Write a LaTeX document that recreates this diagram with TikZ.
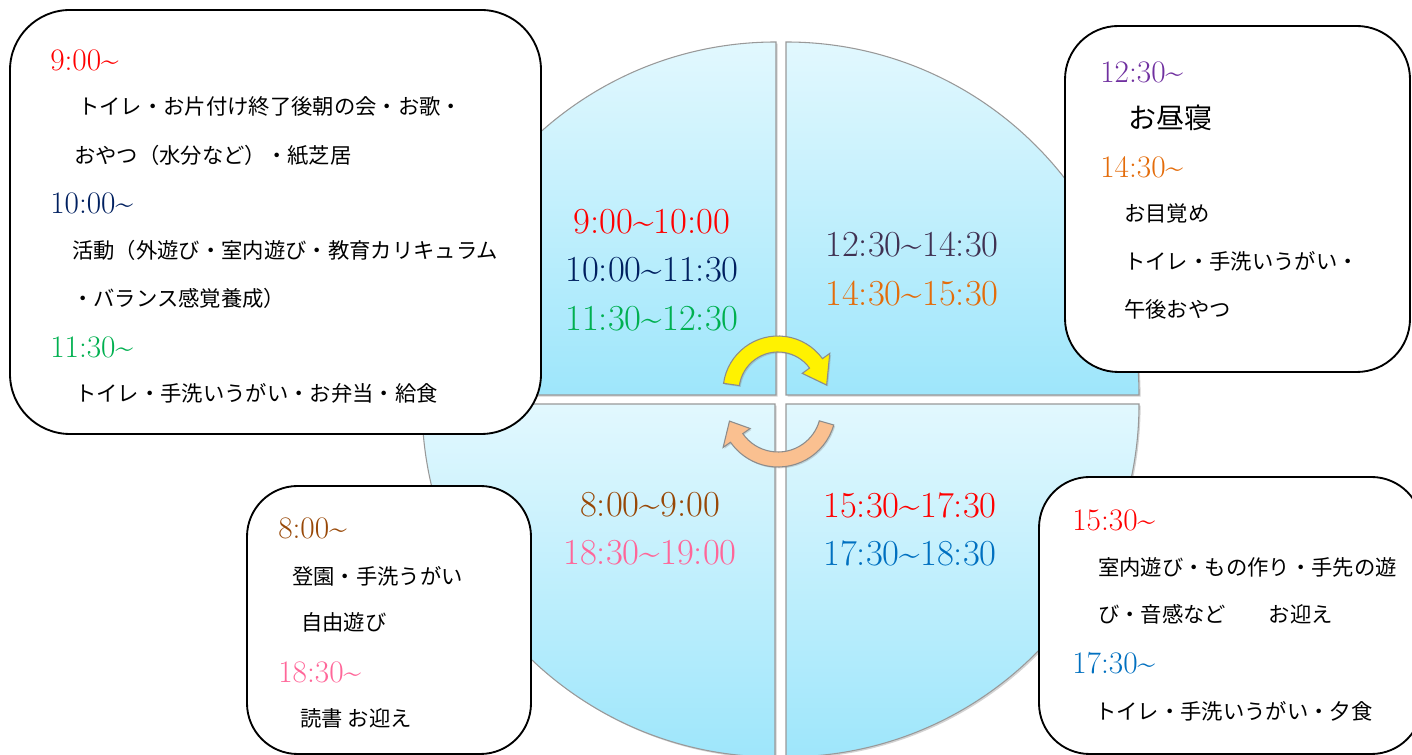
\documentclass[tikz,border=0pt]{standalone}
\usepackage{fontspec}
\newfontfamily\jpfont{Noto Sans CJK JP}
\usetikzlibrary{calc,shadows}
\definecolor{timered}{HTML}{FF0000}
\definecolor{timenavy}{HTML}{002060}
\definecolor{timegreen}{HTML}{00B050}
\definecolor{timepurple}{HTML}{7030A0}
\definecolor{timeplum}{HTML}{403152}
\definecolor{timeorange}{HTML}{E46C0A}
\definecolor{timeblue}{HTML}{0070C0}
\definecolor{timebrown}{HTML}{984807}
\definecolor{timepink}{HTML}{FF6699}
\definecolor{pielight}{HTML}{E2F8FE}
\definecolor{piedark}{HTML}{9EE6FB}
\definecolor{arrowpeach}{HTML}{FAC090}
\newcommand{\upto}{\textasciitilde}
\begin{document}
\begin{tikzpicture}[x=0.75pt,y=0.75pt,
  quarter/.style={draw=gray!80,line width=0.8pt,top color=pielight,bottom color=piedark,
    drop shadow={shadow xshift=1.2pt,shadow yshift=-1.2pt,opacity=0.35}},
  turn/.style={draw=gray!90,line width=0.8pt,
    drop shadow={shadow xshift=1pt,shadow yshift=-1pt,opacity=0.3}},
  callout/.style={draw=black,line width=1.4pt,fill=white,rounded corners=40pt},
  jp/.style={anchor=west,inner sep=0pt,font=\jpfont\fontsize{16}{19}\selectfont},
  boxtime/.style={anchor=west,inner sep=0pt,font=\fontsize{23.5}{27}\selectfont},
  pietime/.style={inner sep=0pt,font=\fontsize{27.5}{32}\selectfont}]
    \useasboundingbox (0,0) rectangle (1412,755);
    % the four quarters of the day
    \path[quarter] (776,360) -- (423,360) arc[start angle=180,end angle=90,radius=353] -- cycle;
    \path[quarter] (786,360) -- (786,713) arc[start angle=90,end angle=0,radius=353] -- cycle;
    \path[quarter] (775,351) -- (775,-2) arc[start angle=270,end angle=180,radius=353] -- cycle;
    \path[quarter] (786,351) -- (1139,351) arc[start angle=0,end angle=-90,radius=353] -- cycle;
    % turning arrows
    \coordinate (sun) at (778,364);
    \coordinate (moon) at (778,346);
    \draw[turn,fill=yellow] ($(sun)+(172:55)$) arc[start angle=172,end angle=36,radius=55]
      -- ($(sun)+(36:64)$) -- ($(sun)+(7:49)$) -- ($(sun)+(36:30)$)
      -- ($(sun)+(36:39)$) arc[start angle=36,end angle=172,radius=39] -- cycle;
    \draw[turn,fill=arrowpeach] ($(moon)+(-16:58)$) arc[start angle=-16,end angle=-145,radius=58]
      -- ($(moon)+(-145:67)$) -- ($(moon)+(-166:50)$) -- ($(moon)+(-145:34)$)
      -- ($(moon)+(-145:43)$) arc[start angle=-145,end angle=-16,radius=43] -- cycle;
    % times inside the circle
    \node[pietime,timered] (q1a) at (652,533) {9:00\upto10:00};
    \node[pietime,timenavy] (q1b) at (652,485) {10:00\upto11:30};
    \node[pietime,timegreen] (q1c) at (652,436) {11:30\upto12:30};
    \node[pietime,timeplum] (q2a) at (912,510) {12:30\upto14:30};
    \node[pietime,timeorange] (q2b) at (912,461) {14:30\upto15:30};
    \node[pietime,timebrown] (q3a) at (650,250) {8:00\upto9:00};
    \node[pietime,timepink] (q3b) at (650,202) {18:30\upto19:00};
    \node[pietime,timered] (q4a) at (910,250) {15:30\upto17:30};
    \node[pietime,timeblue] (q4b) at (910,202) {17:30\upto18:30};
    % morning box
    \draw[callout,rounded corners=45pt] (10,745) rectangle (541,321);
    \node[boxtime,timered] (am9) at (50,695) {9:00\upto};
    \node[jp] (am9a) at (78,649) {トイレ・お片付け終了後朝の会・お歌・};
    \node[jp] (am9b) at (74,600) {おやつ（水分など）・紙芝居};
    \node[boxtime,timenavy] (am10) at (50,552) {10:00\upto};
    \node[jp] (am10a) at (72,505) {活動（外遊び・室内遊び・教育カリキュラム};
    \node[jp] (am10b) at (72,457) {・バランス感覚養成）};
    \node[boxtime,timegreen] (am11) at (50,408) {11:30\upto};
    \node[jp] (am11a) at (75,362) {トイレ・手洗いうがい・お弁当・給食};
    % afternoon box
    \draw[callout] (1065,729) rectangle (1410,383);
    \node[boxtime,timepurple] (pm12) at (1100,683) {12:30\upto};
    \node[jp,font=\jpfont\fontsize{21}{24}\selectfont] (pm12a) at (1128,637) {お昼寝};
    \node[boxtime,timeorange] (pm14) at (1100,588) {14:30\upto};
    \node[jp] (pm14a) at (1124,542) {お目覚め};
    \node[jp] (pm14b) at (1124,494) {トイレ・手洗いうがい・};
    \node[jp] (pm14c) at (1124,446) {午後おやつ};
    % early and late box
    \draw[callout,rounded corners=38pt] (247,269) rectangle (531,1);
    \node[boxtime,timebrown] (am8) at (278,227) {8:00\upto};
    \node[jp] (am8a) at (292,179) {登園・手洗うがい};
    \node[jp] (am8b) at (301,133) {自由遊び};
    \node[boxtime,timepink] (pm18) at (278,83) {18:30\upto};
    \node[jp] (pm18a) at (300,37) {読書 お迎え};
    % evening box
    \draw[callout,rounded corners=38pt] (1039,278) rectangle (1422,1);
    \node[boxtime,timered] (pm15) at (1072,235) {15:30\upto};
    \node[jp] (pm15a) at (1098,188) {室内遊び・もの作り・手先の遊};
    \node[jp] (pm15b) at (1098,141) {び・音感など　　お迎え};
    \node[boxtime,timeblue] (pm17) at (1072,92) {17:30\upto};
    \node[jp] (pm17a) at (1095,44) {トイレ・手洗いうがい・夕食};
\end{tikzpicture}
\end{document}
